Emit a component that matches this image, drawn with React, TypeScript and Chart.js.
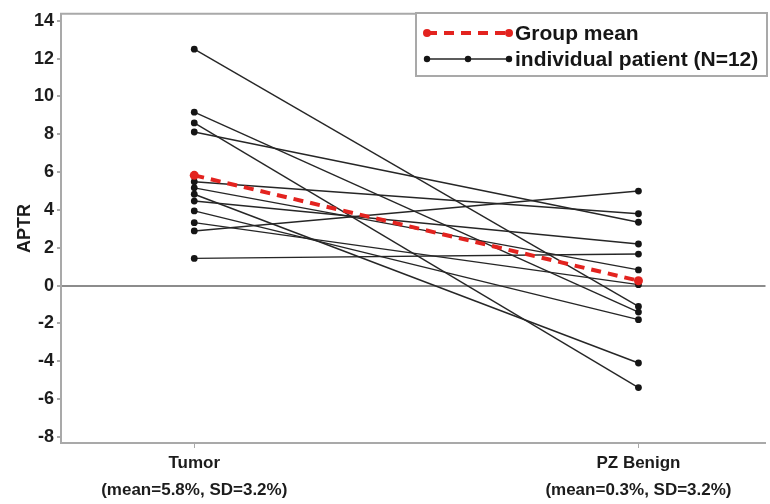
import React, { useEffect, useRef } from 'react';
import { Chart, registerables } from 'chart.js';

Chart.register(...registerables);

const categories = ['Tumor', 'PZ Benign'];
const categorySubLabels = ['(mean=5.8%, SD=3.2%)', '(mean=0.3%, SD=3.2%)'];
const categoryPositions = [1, 2];
const tumorValues = [12.5, 9.17, 8.6, 8.12, 5.49, 5.17, 4.83, 4.47, 3.95, 3.33, 2.89, 1.44];
const benignValues = [-1.1, -1.4, -5.39, 3.35, 3.8, 0.83, -4.09, 2.2, -1.8, 0.05, 5.0, 1.67];
const groupMean = [5.83, 0.26];
const legendLabels = ['Group mean', 'individual patient (N=12)'];

const FONT = '"Liberation Sans", Arial, sans-serif';
const RED = '#e3231f';
const DARK = '#262626';
const FRAME = '#a9a9a9';

const framePlugin = {
  id: 'frame',
  beforeDatasetsDraw(chart: any) {
    const { ctx, chartArea } = chart;
    ctx.save();
    ctx.strokeStyle = FRAME;
    ctx.lineWidth = 2;
    ctx.beginPath();
    ctx.moveTo(chartArea.left, chartArea.bottom);
    ctx.lineTo(chartArea.left, chartArea.top);
    ctx.lineTo(chartArea.right + 2, chartArea.top);
    ctx.stroke();
    ctx.restore();
  },
};

const legendPlugin = {
  id: 'customLegend',
  afterDraw(chart: any) {
    const { ctx } = chart;
    const bx = 416, by = 13, bw = 351, bh = 63;
    ctx.save();
    ctx.fillStyle = '#ffffff';
    ctx.fillRect(bx, by, bw, bh);
    ctx.strokeStyle = FRAME;
    ctx.lineWidth = 2;
    ctx.strokeRect(bx, by, bw, bh);
    const x0 = 427, x1 = 509;
    const y1 = 33, y2 = 59;
    // red dashed sample
    ctx.strokeStyle = RED;
    ctx.lineWidth = 4;
    ctx.setLineDash([10, 7]);
    ctx.beginPath();
    ctx.moveTo(x0, y1);
    ctx.lineTo(x1, y1);
    ctx.stroke();
    ctx.setLineDash([]);
    ctx.fillStyle = RED;
    [x0, x1].forEach((x) => {
      ctx.beginPath();
      ctx.arc(x, y1, 4, 0, Math.PI * 2);
      ctx.fill();
    });
    // black sample
    ctx.strokeStyle = DARK;
    ctx.lineWidth = 1.5;
    ctx.beginPath();
    ctx.moveTo(x0, y2);
    ctx.lineTo(x1, y2);
    ctx.stroke();
    ctx.fillStyle = '#151515';
    [x0, (x0 + x1) / 2, x1].forEach((x) => {
      ctx.beginPath();
      ctx.arc(x, y2, 3.2, 0, Math.PI * 2);
      ctx.fill();
    });
    ctx.fillStyle = '#161616';
    ctx.font = `bold 21px ${FONT}`;
    ctx.textBaseline = 'middle';
    ctx.textAlign = 'left';
    ctx.fillText(legendLabels[0], 515, y1 + 1);
    ctx.fillText(legendLabels[1], 515, y2 + 1);
    ctx.restore();
  },
};

export default function App() {
  const canvasRef = useRef<HTMLCanvasElement | null>(null);

  useEffect(() => {
    document.body.style.margin = '0';
    const canvas = canvasRef.current;
    if (!canvas) return;

    const patientDatasets = tumorValues.map((t, i) => ({
      label: `patient ${i + 1}`,
      data: [
        { x: categoryPositions[0], y: t },
        { x: categoryPositions[1], y: benignValues[i] },
      ],
      borderColor: DARK,
      backgroundColor: '#151515',
      borderWidth: 1.4,
      pointRadius: 3.4,
      pointBorderWidth: 0,
      showLine: true,
    }));

    const meanDataset = {
      label: legendLabels[0],
      data: categoryPositions.map((x, i) => ({ x, y: groupMean[i] })),
      borderColor: RED,
      backgroundColor: RED,
      borderWidth: 4,
      borderDash: [10, 7],
      pointRadius: 4.5,
      pointBorderWidth: 0,
      showLine: true,
    };

    const chart = new Chart(canvas, {
      type: 'scatter',
      data: { datasets: [meanDataset, ...patientDatasets] as any },
      options: {
        animation: false,
        responsive: false,
        layout: { padding: { top: 12, right: 0, left: 0, bottom: 0 } },
        plugins: {
          legend: { display: false },
          tooltip: { enabled: false },
        },
        scales: {
          x: {
            type: 'linear',
            min: 0.7,
            max: 2.286,
            afterBuildTicks: (axis: any) => {
              axis.ticks = categoryPositions.map((v) => ({ value: v }));
            },
            afterFit: (scale: any) => {
              scale.height = 61;
            },
            ticks: {
              callback: (v: any) => {
                const i = categoryPositions.indexOf(Number(v));
                return i >= 0 ? [categories[i], categorySubLabels[i]] : '';
              },
              font: { family: FONT, size: 17, weight: 'bold', lineHeight: 1.6 },
              color: '#1c1c1c',
              padding: 2,
              maxRotation: 0,
              autoSkip: false,
            },
            grid: {
              display: true,
              drawOnChartArea: false,
              drawTicks: true,
              tickLength: 5,
              tickColor: FRAME,
            },
            border: { display: true, color: FRAME, width: 2 },
          },
          y: {
            type: 'linear',
            min: -8.32,
            max: 14.37,
            afterFit: (scale: any) => {
              scale.width = 61;
            },
            ticks: {
              stepSize: 2,
              includeBounds: false,
              font: { family: FONT, size: 18, weight: 'bold' },
              color: '#1c1c1c',
              padding: 3,
            },
            title: {
              display: true,
              text: 'APTR',
              font: { family: FONT, size: 18, weight: 'bold' },
              color: '#1c1c1c',
              padding: { top: 14, bottom: 0 },
            },
            grid: {
              display: true,
              drawTicks: true,
              tickLength: 4,
              tickColor: FRAME,
              lineWidth: 2,
              color: (ctx: any) => (ctx.tick && ctx.tick.value === 0 ? '#8c8c8c' : 'rgba(0,0,0,0)'),
            },
            border: { display: true, color: FRAME, width: 2 },
          },
        },
      },
      plugins: [framePlugin, legendPlugin],
    });

    return () => {
      chart.destroy();
    };
  }, []);

  return (
    <div style={{ width: 770, height: 504, background: '#ffffff' }}>
      <canvas ref={canvasRef} width={770} height={504} style={{ display: 'block' }} />
    </div>
  );
}
